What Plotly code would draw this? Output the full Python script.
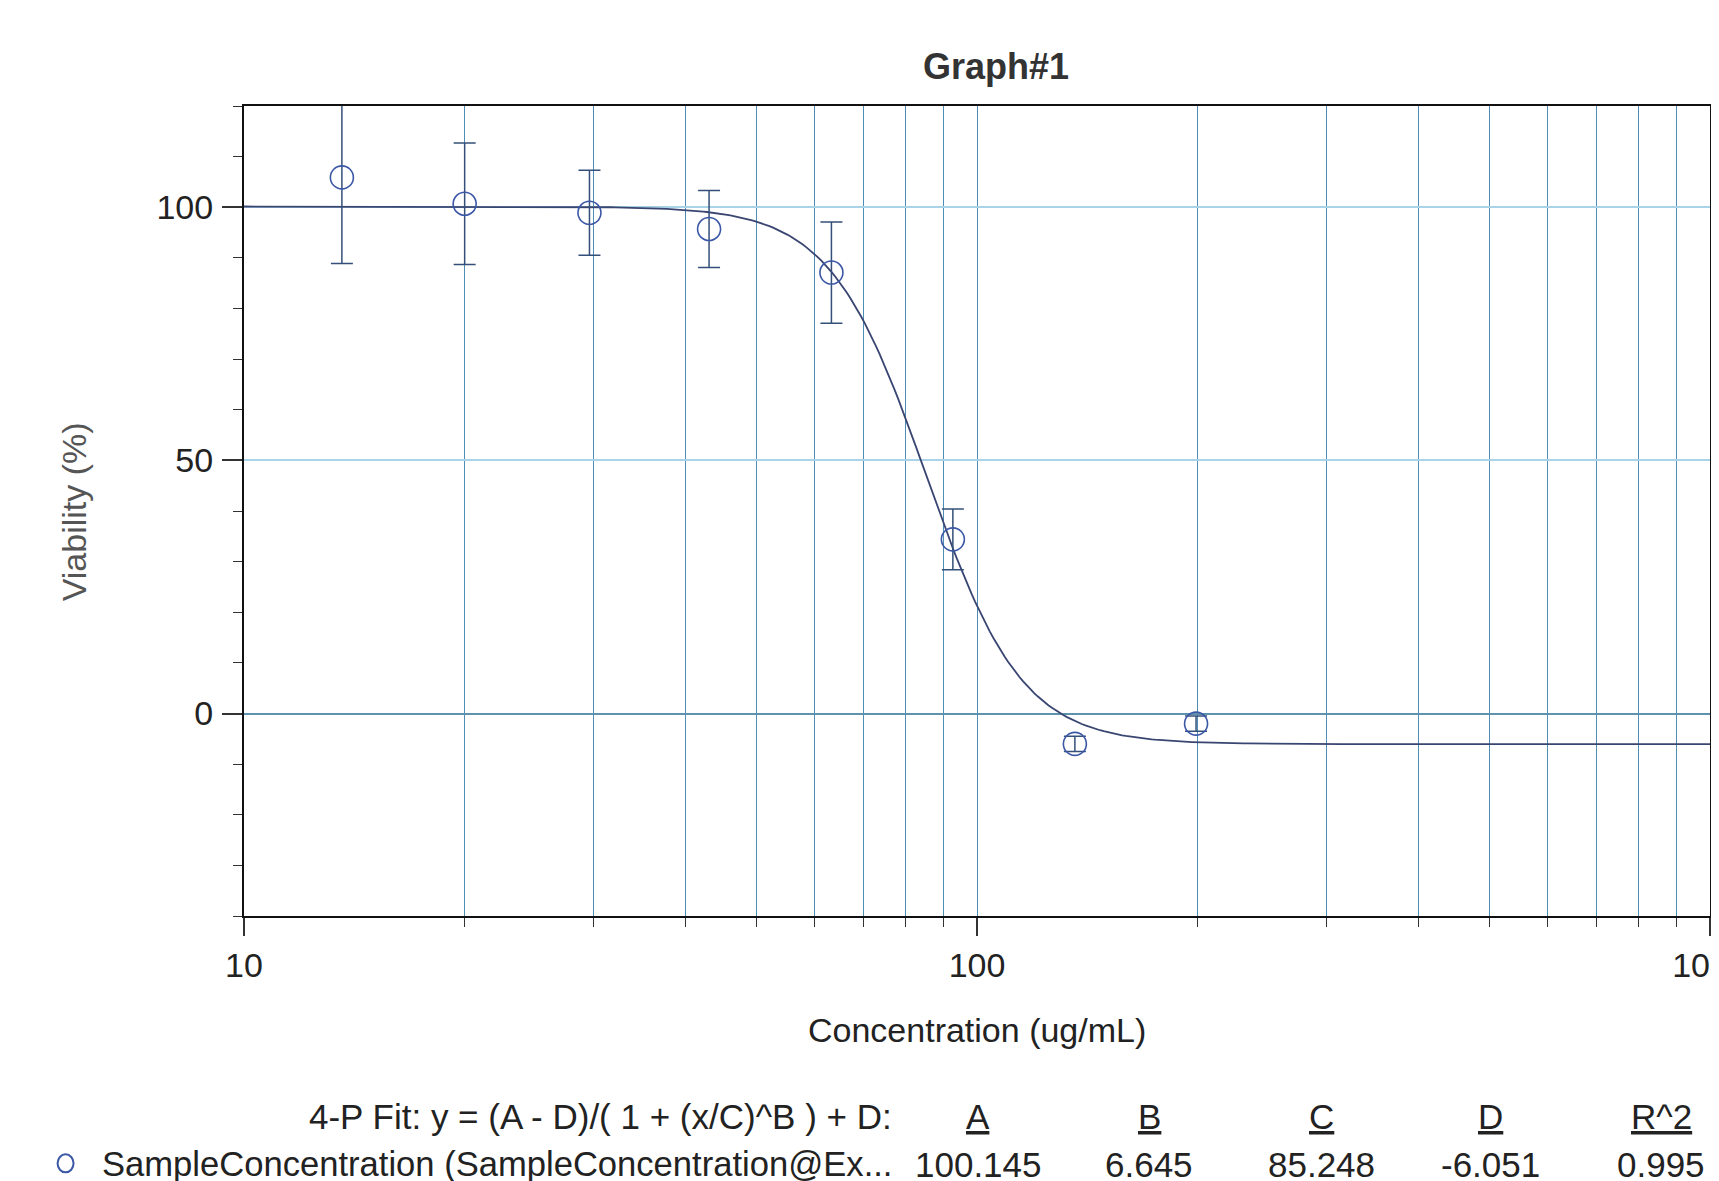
import numpy as np
import plotly.graph_objects as go

# ---- data ----
conc = [13.6, 20.0, 29.6, 43.1, 63.3, 92.7, 136.0, 199.0]
viability = [105.9, 100.7, 98.9, 95.7, 87.1, 34.4, -6.0, -2.0]
viability_err = [17.0, 12.0, 8.4, 7.6, 10.0, 6.0, 1.5, 1.5]

# 4-parameter fit shown in the legend
fit_names = ["A", "B", "C", "D", "R^2"]
fit_values = [100.145, 6.645, 85.248, -6.051, 0.995]
fit_labels = ["100.145", "6.645", "85.248", "-6.051", "0.995"]

x_tick_vals = [10, 100, 1000]
x_minor_vals = [20, 30, 40, 50, 60, 70, 80, 90, 200, 300, 400, 500, 600, 700, 800, 900]
y_tick_vals = [0, 50, 100]

A, B, C, D = fit_values[:4]
x_fit = np.logspace(1, 3, 400)
y_fit = (A - D) / (1 + (x_fit / C) ** B) + D

# ---- layout geometry (page pixels; page body has an 8px margin) ----
OFF = 8
WIDTH, HEIGHT = 1719 - OFF, 1181 - OFF
L, R, T, Bt = 243.5 - OFF, 1710.0 - OFF, 106.0 - OFF, 916.5 - OFF
PW, PH = R - L, Bt - T


def px(X):
    return (X - OFF - L) / PW


def py(Y):
    return (Bt - (Y - OFF)) / PH


FONT = "Liberation Sans, Arial, Helvetica, sans-serif"
TXT = "#222222"
VGRID = "#4f8eb4"
HGRID = "#a9d3e8"
MARK = "#3b57a6"
CURVE = "#3a4672"

fig = go.Figure()

fig.add_trace(go.Scatter(
    x=x_fit, y=y_fit, mode="lines",
    line=dict(color=CURVE, width=1.8),
    hoverinfo="skip", showlegend=False,
))

fig.add_trace(go.Scatter(
    x=conc, y=viability, mode="markers",
    marker=dict(symbol="circle-open", size=23, color=MARK, line=dict(width=1.6, color=MARK)),
    error_y=dict(type="data", array=viability_err, visible=True,
                 color="#34507a", thickness=1.5, width=11),
    showlegend=False,
))

fig.update_xaxes(
    type="log", range=[0.99999, 3.00001],
    tickvals=x_tick_vals, ticktext=[str(v) for v in x_tick_vals],
    ticks="outside", ticklen=18, tickwidth=1.5, tickcolor="#333",
    showline=True, linecolor="#111", linewidth=2, mirror=True,
    showgrid=True, gridcolor=VGRID, gridwidth=1.3,
    minor=dict(tickvals=x_minor_vals,
               ticks="outside", ticklen=9, tickwidth=1.2, tickcolor="#333",
               showgrid=True, gridcolor=VGRID, gridwidth=1.3),
    tickfont=dict(family=FONT, size=34, color=TXT),
    ticklabeloverflow="allow",
    zeroline=False, automargin=False,
)

fig.update_yaxes(
    range=[-40, 120],
    tickvals=y_tick_vals,
    ticks="outside", ticklen=20, tickwidth=1.5, tickcolor="#333",
    showline=True, linecolor="#111", linewidth=2, mirror=True,
    showgrid=True, gridcolor=HGRID, gridwidth=1.5,
    minor=dict(dtick=10, tick0=0, ticks="outside", ticklen=9, tickwidth=1.2, tickcolor="#333",
               showgrid=False),
    zeroline=True, zerolinecolor="#5f93ad", zerolinewidth=1.6,
    tickfont=dict(family=FONT, size=34, color=TXT),
    ticklabelstandoff=2, automargin=False,
)

annotations = []
annotations.append(dict(text="<b>Graph#1</b>", x=px(995.7), y=py(66), xref="paper", yref="paper",
                        xanchor="center", yanchor="middle", showarrow=False,
                        font=dict(family=FONT, size=36, color="#333")))
annotations.append(dict(text="Concentration (ug/mL)", x=px(977), y=py(1031), xref="paper", yref="paper",
                        xanchor="center", yanchor="middle", showarrow=False,
                        font=dict(family=FONT, size=34, color=TXT)))
annotations.append(dict(text="Viability (%)", x=px(73.5), y=py(512.5), xref="paper", yref="paper",
                        xanchor="center", yanchor="middle", showarrow=False, textangle=-90,
                        font=dict(family=FONT, size=34, color="#555")))
annotations.append(dict(text="4-P Fit: y = (A - D)/( 1 + (x/C)^B ) + D:", x=px(894), y=py(1117),
                        xref="paper", yref="paper", xanchor="right", yanchor="middle", showarrow=False,
                        font=dict(family=FONT, size=35, color=TXT)))
annotations.append(dict(text="SampleConcentration (SampleConcentration@Ex...", x=px(894), y=py(1165),
                        xref="paper", yref="paper", xanchor="right", yanchor="middle", showarrow=False,
                        font=dict(family=FONT, size=34.6, color=TXT)))
col_x = [978, 1149, 1321, 1490, 1661]
for cx, name, lab in zip(col_x, fit_names, fit_labels):
    annotations.append(dict(text="<u>" + name + "</u>", x=px(cx), y=py(1117), xref="paper", yref="paper",
                            xanchor="center", yanchor="middle", showarrow=False,
                            font=dict(family=FONT, size=35, color=TXT)))
    annotations.append(dict(text=lab, x=px(cx), y=py(1165), xref="paper", yref="paper",
                            xanchor="center", yanchor="middle", showarrow=False,
                            font=dict(family=FONT, size=35, color=TXT)))

shapes = [dict(type="circle", xref="paper", yref="paper", xsizemode="pixel", ysizemode="pixel",
               xanchor=px(65), yanchor=py(1164), x0=-8, x1=8, y0=-9, y1=9,
               line=dict(color=MARK, width=2), fillcolor="rgba(0,0,0,0)")]

fig.update_layout(
    width=WIDTH, height=HEIGHT,
    margin=dict(l=L, r=WIDTH - R, t=T, b=HEIGHT - Bt, autoexpand=False),
    paper_bgcolor="white", plot_bgcolor="white",
    annotations=annotations, shapes=shapes,
    showlegend=False,
)

fig.write_html("out.html")
